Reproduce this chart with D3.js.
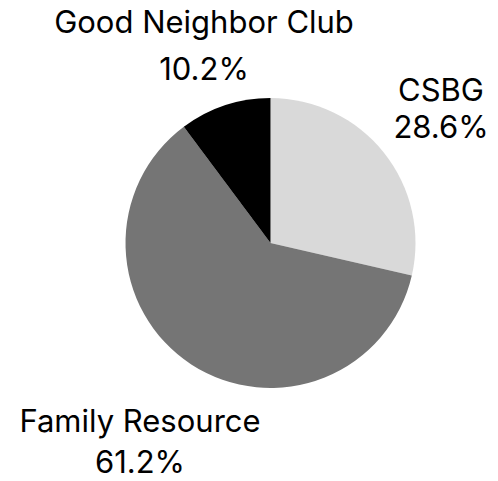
<!DOCTYPE html>
<html><head><meta charset="utf-8">
<script src="https://cdn.jsdelivr.net/npm/d3@7"></script>
<style>html,body{margin:0;padding:0;background:#fff;}</style>
</head><body>
<svg id="chart" width="498" height="481"></svg>
<script>
const categories = ["CSBG", "Family Resource", "Good Neighbor Club"];
const values = [28.6, 61.2, 10.2];
const colors = ["#d9d9d9", "#757575", "#000000"];

const svg = d3.select("#chart");
const cx = 270.5, cy = 243, r = 145;
const g = svg.append("g").attr("transform", `translate(${cx},${cy})`);
const pie = d3.pie().sort(null).value(d => d.v);
const data = categories.map((c, i) => ({c, v: values[i], col: colors[i]}));
const arcs = pie(data);
const arc = d3.arc().innerRadius(0).outerRadius(r);
g.selectAll("path").data(arcs).enter().append("path")
  .attr("d", arc).attr("fill", d => d.data.col);

// label positions (relative to svg)
const labelPos = [
  {x: 441, y1: 101, y2: 138},
  {x: 140, y1: 432, y2: 473},
  {x: 204, y1: 33, y2: 80}
];
const font = "Inter, 'DejaVu Sans', sans-serif";
arcs.forEach((a, i) => {
  const p = labelPos[i];
  [[p.y1, a.data.c], [p.y2, d3.format(".1f")(a.data.v) + "%"]].forEach(([y, txt]) => {
    svg.append("text").attr("text-anchor", "middle")
      .attr("font-family", font).attr("font-size", 31).attr("fill", "#000")
      .attr("x", p.x).attr("y", y).text(txt);
  });
});
</script>
</body></html>
